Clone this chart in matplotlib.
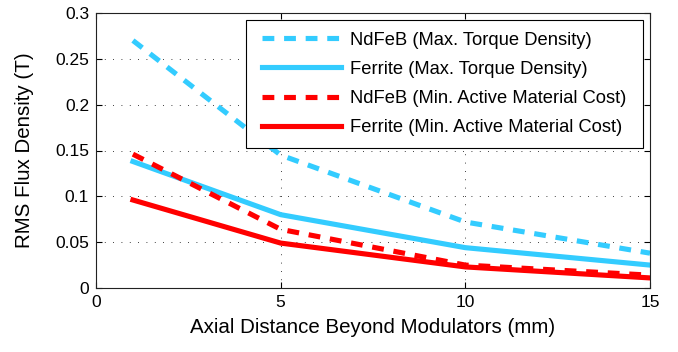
import matplotlib
matplotlib.use("Agg")
import matplotlib.pyplot as plt
from matplotlib.patches import Rectangle

x = [1, 5, 10, 15]
ndfeb_max = [0.270, 0.145, 0.072, 0.038]
ferrite_max = [0.138, 0.080, 0.044, 0.025]
ndfeb_min = [0.146, 0.064, 0.025, 0.014]
ferrite_min = [0.096, 0.049, 0.023, 0.011]
labels = ["NdFeB (Max. Torque Density)", "Ferrite (Max. Torque Density)",
          "NdFeB (Min. Active Material Cost)", "Ferrite (Min. Active Material Cost)"]
xticks = [0, 5, 10, 15]
yticks = [0, 0.05, 0.1, 0.15, 0.2, 0.25, 0.3]
yticklabels = ["0", "0.05", "0.1", "0.15", "0.2", "0.25", "0.3"]

plt.rcParams['font.family'] = ['Liberation Sans', 'DejaVu Sans']

W, H = 678, 352
fig = plt.figure(figsize=(W/100, H/100), dpi=100)
ax = fig.add_axes([96/W, 1 - 288/H, (650-96)/W, (288-13)/H])

blue = '#33CCFF'
red = '#FF0000'
lw = 3.7
dash = (0, (2.3, 1.9))
ax.plot(x, ndfeb_max, color=blue, lw=lw, linestyle=dash, label=labels[0])
ax.plot(x, ferrite_max, color=blue, lw=lw, label=labels[1])
ax.plot(x, ndfeb_min, color=red, lw=lw, linestyle=dash, label=labels[2])
ax.plot(x, ferrite_min, color=red, lw=lw, label=labels[3])

ax.set_xlim(0, 15)
ax.set_ylim(0, 0.3)
ax.set_xticks(xticks)
ax.set_yticks(yticks)
ax.set_yticklabels(yticklabels)
ax.tick_params(direction='in', top=True, right=True, labelsize=12.5, length=4, pad=5)
ax.grid(True, color='black', linestyle=(0, (1, 9)), linewidth=0.6)
for s in ax.spines.values():
    s.set_linewidth(0.8)
    s.set_color('#222222')
ax.set_xlabel('Axial Distance Beyond Modulators (mm)', fontsize=14.8, labelpad=6)
ax.set_ylabel('RMS Flux Density (T)', fontsize=14.8, labelpad=15)

leg = ax.legend(loc='upper right', bbox_to_anchor=((638-96)/554, 1 - 7/275), borderaxespad=0,
                fontsize=13.2, fancybox=False, framealpha=1, edgecolor='black',
                handlelength=4.3, handletextpad=0.5,
                borderpad=0.63, labelspacing=0.67)
leg.get_frame().set_visible(False)

fig.canvas.draw()
bb = leg.get_window_extent()
ext = 5
rect = Rectangle(((bb.x0 - ext)/W, bb.y0/H), (bb.width + 2*ext)/W, bb.height/H,
                 transform=fig.transFigure, facecolor='white', edgecolor='black',
                 linewidth=0.8, zorder=4.5)
ax.add_artist(rect)
rect.set_clip_on(False)
leg.set_zorder(5)

fig.savefig('out.png', dpi=100)
